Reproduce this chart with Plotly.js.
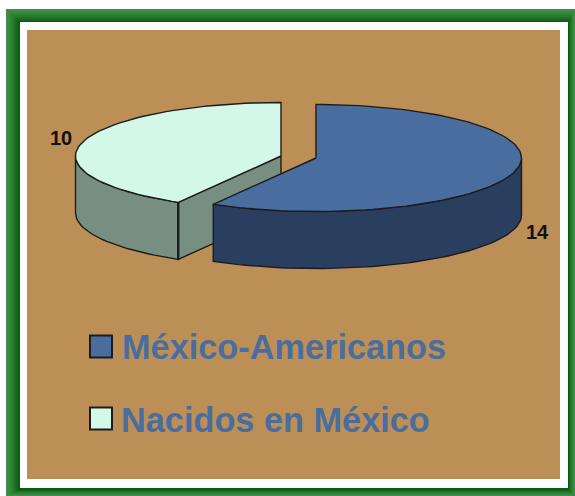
<!DOCTYPE html>
<html>
<head>
<meta charset="utf-8">
<script src="https://cdn.plot.ly/plotly-3.0.1.min.js"></script>
<style>html,body{margin:0;padding:0;background:#fff}#chart{width:575px;height:496px}</style>
</head>
<body>
<div id="chart"></div>
<script>
var categories = ["México-Americanos", "Nacidos en México"];
var values = [14, 10];
var topColors = ["#4a6da0", "#d4f8e8"];
var sideColors = ["#2a3f5f", "#768f80"];
var textColor = "#4a6da0";
var edge = "#1c1c1c";

// projection of the tilted pie onto the pixel-sized axes
var centers = [[316, 158], [281, 156]];
var rx = 205.5, ry = 53.5, depth = 57;
var total = values[0] + values[1];
var splitAngle = 360 * values[0] / total;

function pt(c, deg, dy) {
  var a = deg * Math.PI / 180;
  return [c[0] + rx * Math.sin(a), c[1] - ry * Math.cos(a) + (dy || 0)];
}
function arc(c, from, to, dy) {
  var out = [], n = Math.max(2, Math.round(Math.abs(to - from) / 2));
  for (var i = 0; i <= n; i++) out.push(pt(c, from + (to - from) * i / n, dy));
  return out;
}
function poly(points, fill, width, close) {
  var xs = points.map(function (p) { return p[0]; });
  var ys = points.map(function (p) { return p[1]; });
  if (close !== false) { xs.push(xs[0]); ys.push(ys[0]); }
  return {
    type: "scatter", mode: "lines", x: xs, y: ys,
    fill: fill ? "toself" : "none", fillcolor: fill || undefined,
    line: { color: edge, width: width || 1.4 },
    hoverinfo: "skip", showlegend: false
  };
}

var traces = [];
var cc = centers[1], cb = centers[0];
// cream slice: cut face, outer wall, top, heavy corner edge
traces.push(poly([cc, pt(cc, splitAngle), pt(cc, splitAngle, depth), [cc[0], cc[1] + depth]], sideColors[1]));
traces.push(poly(arc(cc, splitAngle, 270).concat(arc(cc, 270, splitAngle, depth)), sideColors[1]));
traces.push(poly([cc].concat(arc(cc, splitAngle, 360)), topColors[1]));
traces.push(poly([pt(cc, splitAngle), pt(cc, splitAngle, depth)], null, 2.4, false));
// blue slice: outer wall, top
traces.push(poly(arc(cb, 90, splitAngle).concat(arc(cb, splitAngle, 90, depth)), sideColors[0]));
traces.push(poly([cb].concat(arc(cb, 0, splitAngle)), topColors[0]));
// legend swatches
var legendY = [346.5, 418.5];
traces.push({
  type: "scatter", mode: "markers", x: [101, 101], y: legendY,
  marker: { symbol: "square", size: 22, color: topColors, line: { color: edge, width: 2 } },
  hoverinfo: "skip", showlegend: false
});

// green bevelled frame, painted as nested strips from outside to inside
var greens = ["#3d8f47", "#3a8a42", "#33823a", "#2a7a32", "#207028", "#14661c", "#0b5c12"];
var shapes = [];
greens.forEach(function (g, i) {
  shapes.push({ type: "rect", layer: "below", x0: 6 + 2 * i, y0: 9 + 2 * i, x1: 575 - i, y1: 496 - i,
    fillcolor: g, line: { width: 0 } });
});
shapes.push({ type: "rect", layer: "below", x0: 20, y0: 22, x1: 568, y1: 488, fillcolor: "#ffffff", line: { width: 0 } });
shapes.push({ type: "rect", layer: "below", x0: 27, y0: 30, x1: 560, y1: 479, fillcolor: "#bc8f56", line: { width: 0 } });

function label(text, x, y, size, color, anchor) {
  return { text: text, x: x, y: y, xref: "x", yref: "y", showarrow: false, xanchor: anchor, yanchor: "middle",
    font: { family: "Liberation Sans, Arial, sans-serif", size: size, color: color } };
}
var annotations = [
  label("<b>" + values[0] + "</b>", 537, 232, 20, "#111", "center"),
  label("<b>" + values[1] + "</b>", 61, 138, 20, "#111", "center"),
  label("<b>" + categories[0] + "</b>", 120, 346.5, 34.3, textColor, "left"),
  label("<b>" + categories[1] + "</b>", 119, 419.5, 34.3, textColor, "left")
];

Plotly.newPlot("chart", traces, {
  width: 575, height: 496,
  margin: { l: 0, r: 0, t: 0, b: 0, pad: 0 },
  paper_bgcolor: "#ffffff", plot_bgcolor: "rgba(0,0,0,0)",
  xaxis: { range: [0, 575], visible: false, fixedrange: true },
  yaxis: { range: [496, 0], visible: false, fixedrange: true },
  shapes: shapes, annotations: annotations, showlegend: false
}, { displayModeBar: false, staticPlot: true });
</script>
</body>
</html>
